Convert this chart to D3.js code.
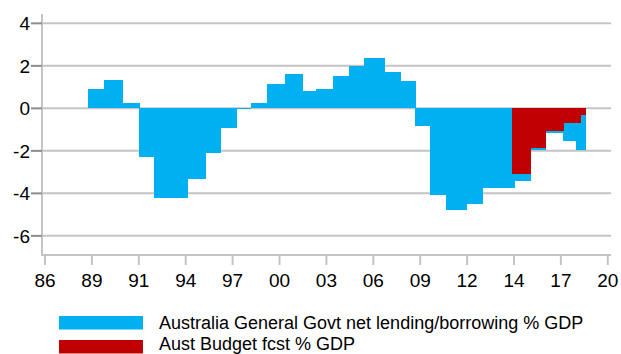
<!DOCTYPE html>
<html>
<head>
<meta charset="utf-8">
<script src="https://cdn.jsdelivr.net/npm/d3@7"></script>
<style>
  body { margin: 0; background: #fff; }
  svg { display: block; font-family: 'Liberation Sans', Arial, sans-serif; }
</style>
</head>
<body>
<div id="chart"></div>
<script>
// net lending periods: start year, value (% GDP); each period ends where the next starts
const govStart = [1988.60, 1989.56, 1990.71, 1991.68, 1992.59, 1993.61, 1994.62, 1995.67, 1996.63, 1997.58,
  1998.43, 1999.41, 2000.50, 2001.53, 2002.37, 2003.40, 2004.37, 2005.27, 2006.54, 2007.45,
  2008.36, 2009.26, 2010.23, 2011.44, 2012.41, 2013.37, 2014.34, 2015.30, 2016.21, 2017.30, 2018.08]
const govValue = [0.92, 1.34, 0.27, -2.29, -4.2, -4.2, -3.32, -2.1, -0.93, -0.05,
  0.27, 1.15, 1.62, 0.83, 0.92, 1.53, 2.0, 2.37, 1.71, 1.29,
  -0.85, -4.1, -4.76, -4.5, -3.75, -3.75, -3.4, -1.95, -1.15, -1.53, -1.95]
const govEnd = 2018.66

const fcstStart = [2014.22, 2015.30, 2016.21, 2017.30, 2018.36]
const fcstValue = [-3.1, -1.85, -1.06, -0.69, -0.31]
const fcstEnd = 2018.66

const xTickLabels = ['86', '89', '91', '94', '97', '00', '03', '06', '09', '12', '14', '17', '20']
const yTicks = [-6, -4, -2, 0, 2, 4]
const legendLabels = ['Australia General Govt net lending/borrowing % GDP', 'Aust Budget fcst % GDP']
const colors = ['#00B0F0', '#C00000']

const width = 621,
  height = 354,
  plotLeft = 42,
  plotRight = 611,
  plotTop = 14,
  plotBottom = 255

const svg = d3.select('#chart').append('svg')
  .attr('width', width)
  .attr('height', height)

const xScale = d3.scaleLinear()
  .domain([1986, 2020])
  .range([45, 607.8])
const yScale = d3.scaleLinear()
  .domain([-6.9, 4.44])
  .range([plotBottom, plotTop])

const toPeriods = (starts, values, end) => starts.map((s, i) => ({
  start: s,
  end: i < starts.length - 1 ? starts[i + 1] : end,
  value: values[i]
}))

// gridlines
svg.append('g').selectAll('line').data(yTicks)
  .enter().append('line')
  .attr('x1', plotLeft)
  .attr('x2', plotRight)
  .attr('y1', d => yScale(d))
  .attr('y2', d => yScale(d))
  .attr('stroke', '#c4c4c4')
  .attr('stroke-width', 2)

// bars
const series = [toPeriods(govStart, govValue, govEnd), toPeriods(fcstStart, fcstValue, fcstEnd)]
series.forEach((periods, k) => {
  svg.append('g')
    .attr('shape-rendering', 'crispEdges')
    .selectAll('rect').data(periods)
    .enter().append('rect')
    .attr('x', d => xScale(d.start))
    .attr('width', d => xScale(d.end) - xScale(d.start) + 0.5)
    .attr('y', d => yScale(Math.max(0, d.value)))
    .attr('height', d => Math.abs(yScale(d.value) - yScale(0)))
    .attr('fill', colors[k])
})

// axes
const axisG = svg.append('g')
axisG.append('line')
  .attr('x1', plotLeft).attr('x2', plotLeft)
  .attr('y1', plotTop).attr('y2', plotBottom + 1)
  .attr('stroke', '#c4c4c4').attr('stroke-width', 2)
axisG.append('line')
  .attr('x1', plotLeft).attr('x2', plotRight)
  .attr('y1', plotBottom).attr('y2', plotBottom)
  .attr('stroke', '#c4c4c4').attr('stroke-width', 2)

axisG.selectAll('.ytick').data(yTicks)
  .enter().append('line')
  .attr('x1', 31).attr('x2', plotLeft)
  .attr('y1', d => yScale(d)).attr('y2', d => yScale(d))
  .attr('stroke', '#8c8c8c').attr('stroke-width', 2)
axisG.selectAll('.ylabel').data(yTicks)
  .enter().append('text')
  .text(d => d)
  .attr('x', 30)
  .attr('y', d => yScale(d) + 7)
  .attr('fill', '#000')
  .style('text-anchor', 'end')
  .style('font-size', '19px')

const xTicks = xTickLabels.map((t, i) => ({label: t, year: 1986 + i * 34 / 12}))
axisG.selectAll('.xtick').data(xTicks)
  .enter().append('line')
  .attr('x1', d => xScale(d.year)).attr('x2', d => xScale(d.year))
  .attr('y1', plotBottom).attr('y2', 265)
  .attr('stroke', '#c4c4c4').attr('stroke-width', 2)
axisG.selectAll('.xlabel').data(xTicks)
  .enter().append('text')
  .text(d => d.label)
  .attr('x', d => xScale(d.year))
  .attr('y', 287)
  .attr('fill', '#000')
  .style('text-anchor', 'middle')
  .style('font-size', '19px')

// legend
const legendG = svg.append('g')
legendLabels.forEach((label, i) => {
  legendG.append('rect')
    .attr('x', 59)
    .attr('y', 316 + i * 24)
    .attr('width', 84)
    .attr('height', 13.5)
    .attr('fill', colors[i])
  legendG.append('text')
    .text(label)
    .attr('x', 159)
    .attr('y', 329 + i * 21)
    .attr('fill', '#000')
    .style('font-size', '18px')
})
</script>
</body>
</html>
